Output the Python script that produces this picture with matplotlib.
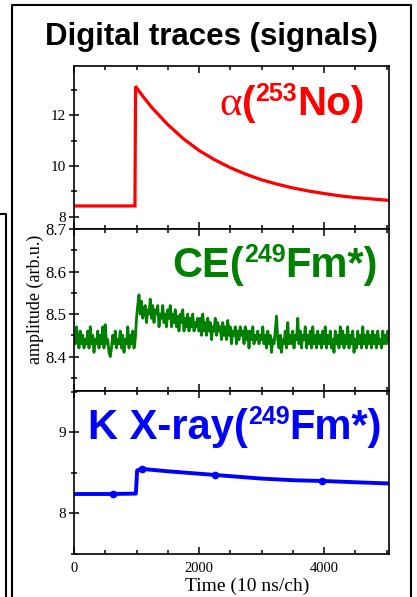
import numpy as np
import matplotlib
matplotlib.use("Agg")
import matplotlib.pyplot as plt
import matplotlib.transforms as mtransforms
from matplotlib.lines import Line2D
from matplotlib.ticker import MultipleLocator

# ---- data ----
# alpha trace (red)
alpha_t = [0, 975, 985, 1100, 1250, 1500, 1750, 2000, 2250, 2500, 2750,
           3000, 3250, 3500, 3750, 4000, 4250, 4500, 4750, 5030]
alpha_amp = [8.43, 8.43, 13.15, 12.76, 12.30, 11.64, 11.08, 10.62, 10.25, 9.94,
             9.68, 9.46, 9.29, 9.14, 9.02, 8.92, 8.83, 8.76, 8.71, 8.65]

# CE trace (green), one value every 20 channels
ce_amp = [
    # 0 - 980
    8.45, 8.43, 8.47, 8.44, 8.42, 8.46, 8.43, 8.45, 8.42, 8.44,
    8.43, 8.46, 8.42, 8.47, 8.43, 8.45, 8.41, 8.44, 8.43, 8.46,
    8.42, 8.45, 8.43, 8.47, 8.42, 8.475, 8.43, 8.44, 8.41, 8.40,
    8.42, 8.45, 8.43, 8.46, 8.42, 8.44, 8.43, 8.46, 8.42, 8.45,
    8.41, 8.44, 8.43, 8.47, 8.42, 8.45, 8.43, 8.46, 8.42, 8.44,
    # 1000 - 1980
    8.49, 8.52, 8.545, 8.50, 8.53, 8.49, 8.51, 8.52, 8.48, 8.51,
    8.50, 8.535, 8.49, 8.52, 8.48, 8.51, 8.50, 8.52, 8.47, 8.50,
    8.49, 8.52, 8.48, 8.50, 8.47, 8.51, 8.49, 8.52, 8.47, 8.50,
    8.48, 8.51, 8.47, 8.495, 8.46, 8.50, 8.48, 8.51, 8.46, 8.49,
    8.47, 8.50, 8.46, 8.49, 8.47, 8.50, 8.46, 8.48, 8.47, 8.49,
    # 2000 - 2980
    8.46, 8.49, 8.45, 8.50, 8.46, 8.48, 8.45, 8.49, 8.46, 8.48,
    8.44, 8.47, 8.46, 8.49, 8.45, 8.48, 8.46, 8.47, 8.44, 8.48,
    8.45, 8.47, 8.44, 8.485, 8.45, 8.47, 8.43, 8.46, 8.45, 8.47,
    8.43, 8.46, 8.44, 8.47, 8.45, 8.46, 8.43, 8.47, 8.44, 8.46,
    8.42, 8.46, 8.44, 8.47, 8.43, 8.45, 8.44, 8.46, 8.43, 8.45,
    # 3000 - 3980
    8.44, 8.47, 8.43, 8.45, 8.42, 8.46, 8.43, 8.45, 8.41, 8.44,
    8.43, 8.46, 8.495, 8.44, 8.42, 8.45, 8.41, 8.44, 8.43, 8.46,
    8.42, 8.48, 8.43, 8.45, 8.43, 8.46, 8.42, 8.45, 8.44, 8.49,
    8.43, 8.46, 8.42, 8.45, 8.44, 8.47, 8.42, 8.45, 8.43, 8.46,
    8.42, 8.47, 8.43, 8.45, 8.42, 8.46, 8.43, 8.45, 8.42, 8.46,
    # 4000 - 5040
    8.43, 8.47, 8.42, 8.45, 8.43, 8.46, 8.42, 8.44, 8.41, 8.46,
    8.43, 8.45, 8.42, 8.47, 8.43, 8.46, 8.42, 8.45, 8.43, 8.47,
    8.42, 8.45, 8.43, 8.46, 8.41, 8.44, 8.42, 8.46, 8.43, 8.45,
    8.42, 8.47, 8.43, 8.45, 8.42, 8.46, 8.43, 8.45, 8.42, 8.46,
    8.43, 8.45, 8.42, 8.46, 8.43, 8.44, 8.42, 8.46, 8.43, 8.45,
    8.43, 8.46, 8.44,
]
ce_t = np.arange(len(ce_amp)) * 20

# K X-ray trace (blue)
kx_t = [0, 600, 990, 1010, 1080, 1500, 2000, 2500, 3000, 3500, 4000, 4500, 5030]
kx_amp = [8.24, 8.24, 8.245, 8.53, 8.55, 8.52, 8.49, 8.46, 8.43, 8.41, 8.40, 8.385, 8.37]
kx_dot_t = [620, 1080, 2250, 3960]
kx_dot_amp = [8.245, 8.55, 8.475, 8.40]

RED = "#ff0000"
GREEN = "#008000"
BLUE = "#0000ff"

serif = "Liberation Serif"
sans = "Liberation Sans"

W, H = 417, 597
fig = plt.figure(figsize=(W / 100, H / 100), dpi=100)
fig.patch.set_facecolor("white")

def fx(px):
    return px / W

def fy(py):
    return 1 - py / H

left, right = 74, 389
edges = [66, 229, 391, 554]
axes = []
for i in range(3):
    ax = fig.add_axes([fx(left), fy(edges[i + 1]), fx(right) - fx(left),
                       (edges[i + 1] - edges[i]) / H])
    axes.append(ax)

ax1, ax2, ax3 = axes

ax1.plot(alpha_t, alpha_amp, color=RED, lw=2.3, solid_joinstyle="miter")
ax2.plot(ce_t, ce_amp, color=GREEN, lw=2.0)
ax3.plot(kx_t, kx_amp, color=BLUE, lw=2.8)
ax3.plot(kx_dot_t, kx_dot_amp, "o", color=BLUE, ms=4.5)

ax1.set_ylim(7.52, 13.95)
ax2.set_ylim(8.319, 8.70)
ax3.set_ylim(7.5, 9.51)

ax1.yaxis.set_major_locator(MultipleLocator(2))
ax1.yaxis.set_minor_locator(MultipleLocator(1))
ax2.yaxis.set_major_locator(MultipleLocator(0.1))
ax2.yaxis.set_minor_locator(MultipleLocator(0.05))
ax3.yaxis.set_major_locator(MultipleLocator(1))
ax3.yaxis.set_minor_locator(MultipleLocator(0.5))

ytick_size = [11, 12, 11]
for i, ax in enumerate(axes):
    ax.set_xlim(0, 5040)
    ax.xaxis.set_major_locator(MultipleLocator(2000))
    ax.xaxis.set_minor_locator(MultipleLocator(500))
    for sp in ax.spines.values():
        sp.set_linewidth(1.2)
    ax.tick_params(axis="x", which="both", direction="in", top=True, bottom=True,
                   labelbottom=(i == 2), labelsize=10.5, pad=6)
    ax.tick_params(axis="x", which="major", length=5, width=1.1)
    ax.tick_params(axis="x", which="minor", length=3, width=1.1)
    ax.tick_params(axis="y", which="both", direction="inout", labelsize=ytick_size[i], pad=2)
    ax.tick_params(axis="y", which="major", length=7, width=1.1)
    ax.tick_params(axis="y", which="minor", length=5, width=1.1)
    for lab in ax.get_xticklabels() + ax.get_yticklabels():
        lab.set_fontfamily(serif)

ax3.set_xlabel("Time (10 ns/ch)", fontsize=14, family=serif)
ax3.xaxis.set_label_coords(0.55, -0.148)
fig.text(fx(35), fy(299), "amplitude (arb.u.)", rotation=90, ha="center",
         va="center", fontsize=13, family=serif)

fig.text(fx(211), fy(45), "Digital traces (signals)", ha="center", va="baseline",
         fontsize=22.5, fontweight="bold", family=sans)

# frames around the panel
lw_box = 1.5
fig.add_artist(Line2D([fx(12), fx(12), fx(411), fx(411)], [0, fy(5), fy(5), 0],
                      color="black", lw=lw_box))
fig.add_artist(Line2D([0, fx(6), fx(6)], [fy(214), fy(214), 0],
                      color="black", lw=lw_box))


def put_label(ax, x, y, pieces, color):
    # pieces left to right: (text, font kwargs, rise in px); placed from the right edge
    renderer = fig.canvas.get_renderer()
    shift = 0.0
    for s, font, rise in reversed(pieces):
        tr = mtransforms.offset_copy(ax.transAxes, fig=fig, x=-shift, y=rise, units="dots")
        t = ax.text(x, y, s, transform=tr, ha="right", va="baseline", color=color, **font)
        shift += t.get_window_extent(renderer).width


big = dict(family=sans, fontweight="bold", fontsize=29)
big30 = dict(family=sans, fontweight="bold", fontsize=30)
sup = dict(family=sans, fontweight="bold", fontsize=18)
greek = dict(family=serif, fontsize=31)

put_label(ax1, 0.922, 0.702,
          [("α", greek, 0), ("(", big, 0), ("253", sup, 14), ("No)", big, 0)], RED)
put_label(ax2, 0.965, 0.704,
          [("CE(", big30, 0), ("249", sup, 15), ("Fm*)", big30, 0)], GREEN)
put_label(ax3, 0.978, 0.706,
          [("K X-ray(", big30, 0), ("249", sup, 15), ("Fm*)", big30, 0)], BLUE)

fig.savefig("out.png", dpi=100)
